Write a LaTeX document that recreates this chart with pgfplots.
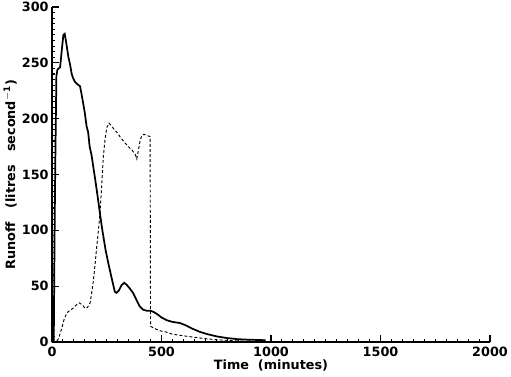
\documentclass[border=0pt]{standalone}
\usepackage{fontspec}
\setmainfont{DejaVu Sans}
\usepackage{pgfplots}
\pgfplotsset{compat=1.18}
\begin{document}
\begin{tikzpicture}
\path[use as bounding box] (-39pt,-26.25pt) rectangle (344.25pt,256.5pt);
\begin{axis}[
  at={(0,0)}, anchor=south west,
  scale only axis, width=328.5pt, height=251.25pt,
  xmin=0, xmax=2000, ymin=0, ymax=300,
  axis x line=bottom, axis y line=left,
  axis line style={-, line width=1.1pt},
  xtick={0,500,1000,1500,2000}, ytick={0,50,100,150,200,250,300},
  minor x tick num=9, minor y tick num=9,
  tick align=inside,
  major tick length=5pt, minor tick length=2.5pt,
  tick style={line width=0.8pt, black},
  /pgf/number format/assume math mode=true,
  /pgf/number format/1000 sep={},
  ticklabel style={font=\fontsize{9.6}{11}\selectfont\bfseries},
  label style={font=\fontsize{9.6}{11}\selectfont\bfseries},
  xticklabel style={yshift=0pt},
  yticklabel style={xshift=1pt},
  xlabel={Time\ \ (minutes)},
  ylabel={Runoff\ \ \ (litres\ \ \ second$^{\mathbf{-1}}$)},
  xlabel style={yshift=4pt},
  ylabel style={yshift=-3pt},
  clip=false,
]
\addplot[black, line width=1.3pt] coordinates {
(0,0) (8,0) (12,100) (15,160) (20,238) (25,244) (37,246) (45,262) (52,275) (58,276) (65,268) (75,255) (82,249) (90,240) (97,236) (105,233) (115,231) (128,229) (135,222) (143,213) (150,205) (158,193) (165,188) (172,175) (180,168) (190,155) (200,142) (210,128) (219,115) (230,100) (245,82) (260,68) (275,55) (287,45) (295,44) (305,46) (318,51) (330,53) (342,51) (355,48) (370,44) (385,38) (400,32) (415,29) (432,28) (450,28) (463,27) (480,25) (500,22) (524,19.5) (550,18) (584,17) (610,15) (640,12) (676,9) (710,7) (752,5) (800,3.5) (850,2.5) (900,2) (950,1.8) (975,1.5)
};
\addplot[black, line width=0.7pt, dash pattern=on 2.2pt off 1.6pt] coordinates {
(0,0) (20,0.5) (30,3) (44,12) (55,20) (67,26) (80,28) (95,30) (110,33) (125,35) (140,33) (151,30) (162,31) (174,35) (182,45) (189,55) (197,70) (204,85) (212,100) (219,115) (227,140) (234,165) (242,181) (250,192) (260,196) (270,194) (285,190) (300,187) (310,184) (330,179) (348,175) (365,172) (380,168) (387,164) (395,172) (402,180) (410,185) (420,186) (432,185) (448,184) (450,14) (470,12) (493,10) (520,9) (550,7) (584,6) (620,5) (660,4) (700,3) (750,2) (800,1.5) (850,1) (900,0.5)
};
\end{axis}
\end{tikzpicture}
\end{document}
